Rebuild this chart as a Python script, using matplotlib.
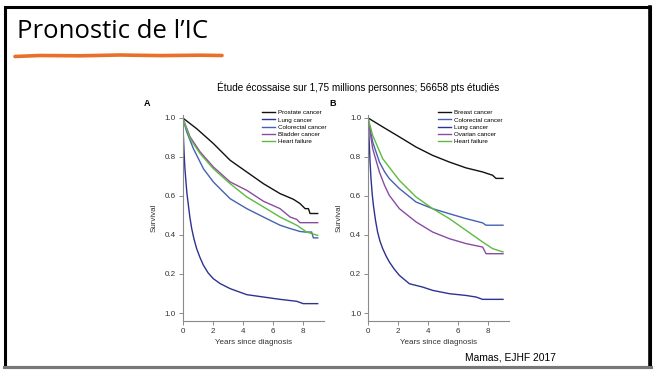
import matplotlib.pyplot as plt
from matplotlib.patches import Rectangle
import numpy as np

# Panel A (men)
a_labels = ['Prostate cancer', 'Lung cancer', 'Colorectal cancer', 'Bladder cancer', 'Heart failure']
a_prostate_x = [0, 0.93, 2.04, 3.16, 4.27, 5.38, 6.49, 7.38, 7.82, 8.16, 8.38, 8.49, 9.0]
a_prostate_y = [1.0, 0.945, 0.869, 0.783, 0.723, 0.663, 0.612, 0.583, 0.561, 0.535, 0.535, 0.510, 0.510]
a_lung_x = [0, 0.05, 0.09, 0.14, 0.2, 0.28, 0.38, 0.48, 0.6, 0.75, 0.93, 1.15, 1.38, 1.7, 2.04, 2.49,
            3.16, 4.27, 5.38, 6.49, 7.6, 8.04, 9.0]
a_lung_y = [1.0, 0.90, 0.826, 0.75, 0.689, 0.615, 0.552, 0.49, 0.433, 0.38, 0.33, 0.285, 0.245, 0.205,
            0.176, 0.151, 0.125, 0.094, 0.082, 0.070, 0.060, 0.048, 0.048]
a_colo_x = [0, 0.27, 0.71, 1.38, 2.04, 3.16, 4.27, 5.38, 6.49, 7.16, 7.82, 8.16, 8.6, 8.71, 9.0]
a_colo_y = [1.0, 0.928, 0.843, 0.74, 0.672, 0.586, 0.535, 0.492, 0.45, 0.433, 0.418, 0.415, 0.415, 0.385, 0.385]
a_blad_x = [0, 0.49, 1.16, 2.04, 3.16, 4.27, 5.38, 6.49, 7.16, 7.6, 7.82, 9.0]
a_blad_y = [1.0, 0.903, 0.826, 0.749, 0.672, 0.629, 0.573, 0.535, 0.492, 0.480, 0.463, 0.463]
a_hf_x = [0, 0.49, 1.16, 2.04, 3.16, 4.27, 5.38, 6.49, 7.6, 8.27, 9.0]
a_hf_y = [1.0, 0.894, 0.817, 0.74, 0.663, 0.595, 0.544, 0.492, 0.45, 0.415, 0.398]

# Panel B (women)
b_labels = ['Breast cancer', 'Colorectal cancer', 'Lung cancer', 'Ovarian cancer', 'Heart failure']
b_breast_x = [0, 0.98, 2.09, 3.2, 4.31, 5.42, 6.53, 7.64, 8.31, 8.53, 9.0]
b_breast_y = [1.0, 0.954, 0.903, 0.851, 0.808, 0.774, 0.744, 0.723, 0.706, 0.690, 0.690]
b_colo_x = [0, 0.31, 0.76, 1.1, 1.42, 2.09, 3.2, 4.31, 5.42, 6.53, 7.64, 7.87, 9.0]
b_colo_y = [1.0, 0.877, 0.774, 0.725, 0.689, 0.638, 0.569, 0.535, 0.509, 0.484, 0.462, 0.45, 0.45]
b_lung_x = [0, 0.05, 0.09, 0.14, 0.2, 0.28, 0.36, 0.5, 0.64, 0.8, 0.98, 1.2, 1.42, 1.75, 2.09, 2.76,
            3.64, 4.31, 5.42, 6.53, 7.2, 7.64, 9.0]
b_lung_y = [1.0, 0.93, 0.86, 0.77, 0.689, 0.61, 0.552, 0.475, 0.415, 0.368, 0.33, 0.293, 0.262, 0.225,
            0.193, 0.15, 0.133, 0.116, 0.099, 0.09, 0.082, 0.070, 0.070]
b_ovar_x = [0, 0.31, 0.76, 1.1, 1.42, 2.09, 3.2, 4.31, 5.42, 6.53, 7.64, 7.87, 9.0]
b_ovar_y = [1.0, 0.843, 0.723, 0.655, 0.603, 0.535, 0.467, 0.415, 0.381, 0.356, 0.338, 0.304, 0.304]
b_hf_x = [0, 0.31, 0.98, 2.09, 3.2, 4.31, 5.42, 6.53, 7.64, 8.31, 9.0]
b_hf_y = [1.0, 0.911, 0.791, 0.68, 0.595, 0.535, 0.484, 0.424, 0.364, 0.33, 0.313]

ytick_vals = [0, 0.2, 0.4, 0.6, 0.8, 1.0]
ytick_labels = ['1.0', '0.2', '0.4', '0.6', '0.8', '1.0']
xtick_vals = [0, 2, 4, 6, 8]

BLACK = '#111111'
NAVY = '#2c3390'
BLUE = '#4461b2'
PURPLE = '#8a4ba3'
GREEN = '#5cbb3e'
GREY = '#8a8a8a'
FONT = 'Liberation Sans'

W, H = 656, 370
fig = plt.figure(figsize=(W / 100, H / 100), dpi=100)


def fx(px):
    return np.asarray(px) / W


def fy(py):
    return 1 - np.asarray(py) / H


# slide frame
fig.patches.append(Rectangle((fx(5), fy(367)), fx(645), 360 / H, transform=fig.transFigure,
                             fill=False, edgecolor='black', linewidth=2.2))
fig.lines.append(plt.Line2D(fx([650, 650]), fy([7, 367]), transform=fig.transFigure,
                            color='black', linewidth=2.6))
fig.lines.append(plt.Line2D(fx([4, 651]), fy([367, 367]), transform=fig.transFigure,
                            color='#777777', linewidth=2.2))

fig.text(fx(17), fy(31), 'Pronostic de l\u2019IC', fontsize=18.5, family='Open Sans',
         va='center', ha='left')
ux = np.array([15, 40, 80, 120, 160, 200, 222])
uy = np.array([56.5, 55.5, 55.8, 55.0, 55.6, 55.2, 55.5])
fig.lines.append(plt.Line2D(fx(ux), fy(uy), transform=fig.transFigure,
                            color='#e8702a', linewidth=2.6, solid_capstyle='round'))
fig.text(fx(358), fy(87), '\u00c9tude \u00e9cossaise sur 1,75 millions personnes; 56658 pts \u00e9tudi\u00e9s',
         fontsize=7.2, family=FONT, ha='center', va='center')
fig.text(fx(510), fy(357), 'Mamas, EJHF 2017', fontsize=7.4, family=FONT, ha='center', va='center')


def panel(left_px, letter, series, labels, leg_px):
    ax = fig.add_axes([fx(left_px), fy(321), 141 / W, 206 / H])
    for (x, y, c), lab in zip(series, labels):
        ax.plot(x, y, color=c, linewidth=1.0, label=lab)
    ax.set_xlim(0, 9.4)
    ax.set_ylim(-0.041, 1.015)
    for s in ['top', 'right']:
        ax.spines[s].set_visible(False)
    for s in ['left', 'bottom']:
        ax.spines[s].set_color(GREY)
        ax.spines[s].set_linewidth(0.8)
    ax.set_yticks(ytick_vals)
    ax.set_yticklabels(ytick_labels)
    ax.set_xticks(xtick_vals)
    ax.tick_params(length=3, width=0.7, color=GREY, labelsize=5.8, labelcolor='#333333', pad=2)
    for t in ax.get_xticklabels() + ax.get_yticklabels():
        t.set_family(FONT)
    ax.set_xlabel('Years since diagnosis', fontsize=5.8, family=FONT, color='#333333', labelpad=3)
    ax.set_ylabel('Survival', fontsize=5.8, family=FONT, color='#333333', labelpad=5)
    fig.text(fx(left_px - 39), fy(104), letter, fontsize=6.5, family=FONT, weight='bold',
             ha='left', va='center')
    ax.legend(loc='upper left', bbox_to_anchor=(fx(leg_px[0]), fy(leg_px[1])),
              bbox_transform=fig.transFigure, frameon=False,
              prop={'family': FONT, 'size': 4.5}, handlelength=2.0, handletextpad=0.5,
              labelspacing=0.3, borderpad=0, borderaxespad=0)
    return ax


panel(182.7, 'A', [(a_prostate_x, a_prostate_y, BLACK), (a_lung_x, a_lung_y, NAVY),
                   (a_colo_x, a_colo_y, BLUE), (a_blad_x, a_blad_y, PURPLE),
                   (a_hf_x, a_hf_y, GREEN)], a_labels, (262, 110))
panel(368, 'B', [(b_breast_x, b_breast_y, BLACK), (b_colo_x, b_colo_y, BLUE),
                 (b_lung_x, b_lung_y, NAVY), (b_ovar_x, b_ovar_y, PURPLE),
                 (b_hf_x, b_hf_y, GREEN)], b_labels, (438, 110))

fig.savefig('out.png', dpi=100)
